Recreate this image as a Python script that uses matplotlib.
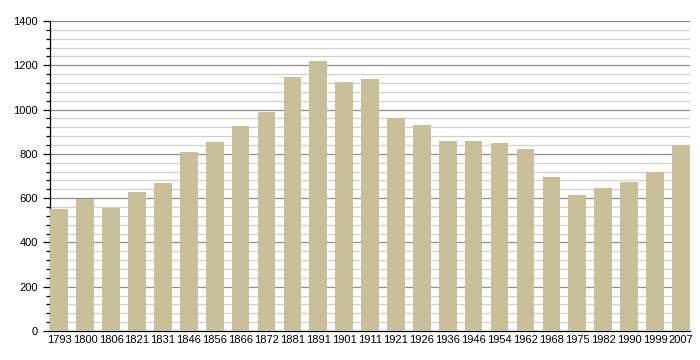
import matplotlib.pyplot as plt
from matplotlib.ticker import MultipleLocator

years = ["1793", "1800", "1806", "1821", "1831", "1846", "1856", "1866", "1872",
         "1881", "1891", "1901", "1911", "1921", "1926", "1936", "1946", "1954",
         "1962", "1968", "1975", "1982", "1990", "1999", "2007"]
population = [551, 596, 555, 628, 668, 808, 853, 926, 989,
              1147, 1219, 1125, 1138, 962, 930, 858, 858, 849,
              822, 696, 614, 646, 673, 718, 840]

plt.rcParams["font.family"] = ["Liberation Sans", "DejaVu Sans"]

fig = plt.figure(figsize=(7, 3.6), dpi=100)
ax = fig.add_axes([0.0714, 0.0806, 0.9146, 0.8611])

x = range(len(years))
ax.bar(x, population, width=0.68, color="#c9bf99", zorder=3)

ax.set_ylim(0, 1400)
ax.set_xlim(-0.36, len(years) - 1 + 0.36)
ax.yaxis.set_major_locator(MultipleLocator(200))
ax.yaxis.set_minor_locator(MultipleLocator(40))
ax.grid(axis="y", which="major", color="#8c8c8c", linewidth=0.9, zorder=0)
ax.grid(axis="y", which="minor", color="#d0d0d0", linewidth=0.9, zorder=0)

ax.set_xticks(list(x))
ax.set_xticklabels(years)
ax.tick_params(axis="x", length=0, labelsize=8, pad=3)
ax.tick_params(axis="y", which="major", length=5, labelsize=8, width=0.9)
ax.tick_params(axis="y", which="minor", length=3, width=0.9)

for side in ["top", "right"]:
    ax.spines[side].set_visible(False)
ax.spines["left"].set_linewidth(0.9)
ax.spines["bottom"].set_linewidth(0.9)

plt.savefig("out.png", dpi=100)
plt.close()
